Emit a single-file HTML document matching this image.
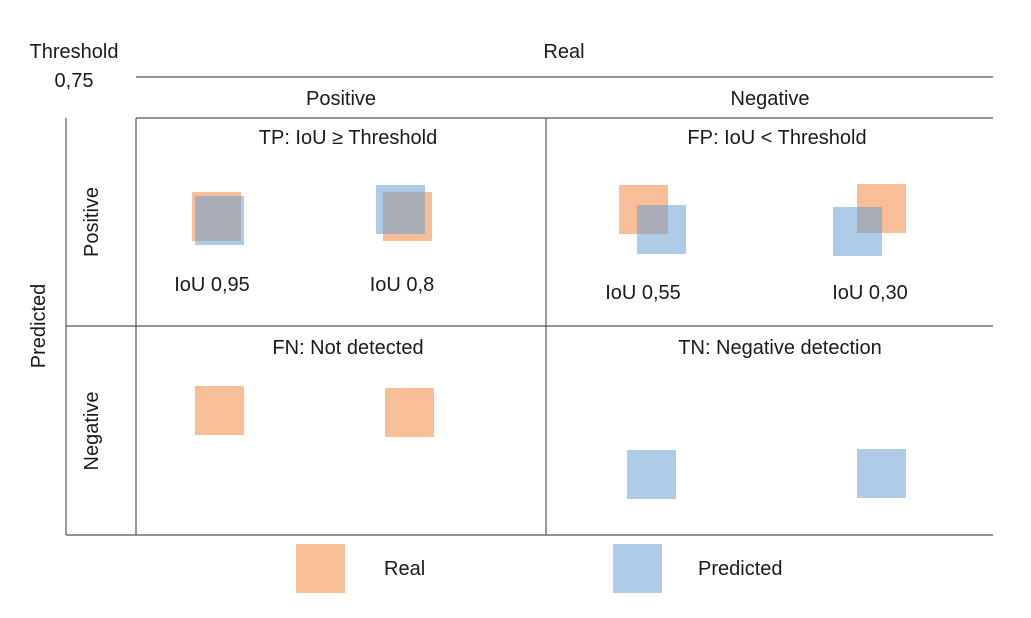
<!DOCTYPE html>
<html><head><meta charset="utf-8"><style>
html,body{margin:0;padding:0;background:#fff;}
svg{display:block;font-family:"Liberation Sans",sans-serif;}
text{font-size:20px;fill:#1a1a1a;}
</style></head><body>
<svg width="1031" height="618" viewBox="0 0 1031 618">
<g stroke="#555" stroke-width="1.2">
<line x1="136" y1="77" x2="993" y2="77"/>
<line x1="136" y1="118" x2="993" y2="118"/>
<line x1="66" y1="326" x2="993" y2="326"/>
<line x1="66" y1="535" x2="993" y2="535"/>
<line x1="66" y1="118" x2="66" y2="535"/>
<line x1="136" y1="118" x2="136" y2="535"/>
<line x1="546" y1="118" x2="546" y2="535"/>
</g>
<text x="74" y="58" text-anchor="middle">Threshold</text>
<text x="74" y="87" text-anchor="middle">0,75</text>
<text x="564" y="58" text-anchor="middle">Real</text>
<text x="341" y="105" text-anchor="middle">Positive</text>
<text x="770" y="105" text-anchor="middle">Negative</text>
<text transform="translate(45,326) rotate(-90)" text-anchor="middle">Predicted</text>
<text transform="translate(98,222) rotate(-90)" text-anchor="middle">Positive</text>
<text transform="translate(98,431) rotate(-90)" text-anchor="middle">Negative</text>
<text x="348" y="144" text-anchor="middle">TP: IoU ≥ Threshold</text>
<text x="777" y="144" text-anchor="middle">FP: IoU &lt; Threshold</text>
<text x="348" y="354" text-anchor="middle">FN: Not detected</text>
<text x="780" y="354" text-anchor="middle">TN: Negative detection</text>
<text x="212" y="291" text-anchor="middle">IoU 0,95</text>
<text x="402" y="291" text-anchor="middle">IoU 0,8</text>
<text x="643" y="299" text-anchor="middle">IoU 0,55</text>
<text x="870" y="299" text-anchor="middle">IoU 0,30</text>
<rect x="192" y="192" width="49" height="49" fill="#F7BE98"/>
<rect x="195" y="196" width="49" height="49" fill="#AECBE8"/>
<rect x="195" y="196" width="46" height="45" fill="#A9ADB8"/>
<rect x="383" y="192" width="49" height="49" fill="#F7BE98"/>
<rect x="376" y="185" width="49" height="49" fill="#AECBE8"/>
<rect x="383" y="192" width="42" height="42" fill="#A9ADB8"/>
<rect x="619" y="185" width="49" height="49" fill="#F7BE98"/>
<rect x="637" y="205" width="49" height="49" fill="#AECBE8"/>
<rect x="637" y="205" width="31" height="29" fill="#A9ADB8"/>
<rect x="857" y="184" width="49" height="49" fill="#F7BE98"/>
<rect x="833" y="207" width="49" height="49" fill="#AECBE8"/>
<rect x="857" y="207" width="25" height="26" fill="#A9ADB8"/>
<rect x="195" y="386" width="49" height="49" fill="#F7BE98"/>
<rect x="385" y="388" width="49" height="49" fill="#F7BE98"/>
<rect x="627" y="450" width="49" height="49" fill="#AECBE8"/>
<rect x="857" y="449" width="49" height="49" fill="#AECBE8"/>
<rect x="296" y="544" width="49" height="49" fill="#F7BE98"/>
<text x="384" y="575">Real</text>
<rect x="613" y="544" width="49" height="49" fill="#AECBE8"/>
<text x="698" y="575">Predicted</text>
</svg>
</body></html>
